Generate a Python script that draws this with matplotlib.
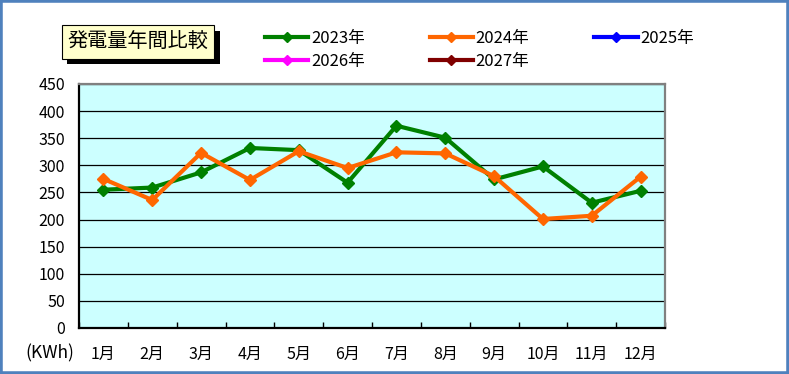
import numpy as np
import matplotlib.pyplot as plt
from matplotlib.patches import Rectangle
import matplotlib.patheffects as pe

plt.rcParams['font.family'] = ['Noto Sans CJK JP', 'DejaVu Sans']

# data
months = ['1月', '2月', '3月', '4月', '5月', '6月', '7月', '8月', '9月', '10月', '11月', '12月']
gen_2023 = [255, 259, 287, 332, 328, 268, 373, 351, 274, 298, 231, 253]
gen_2024 = [275, 236, 323, 273, 326, 295, 324, 322, 280, 201, 207, 279]
years = ['2023年', '2024年', '2025年', '2026年', '2027年']
colors = ['#008000', '#FF6600', '#0000FF', '#FF00FF', '#800000']
series = [gen_2023, gen_2024, [], [], []]

fig = plt.figure(figsize=(7.89, 3.74), dpi=100)
ax = fig.add_axes([79/789, 46/374, 586/789, 244/374])
ax.set_facecolor('#CCFFFF')

x = np.arange(len(months)) + 0.5
handles = []
for yr, col, vals in zip(years, colors, series):
    xs = x[:len(vals)]
    h, = ax.plot(xs, vals, color=col, lw=3, marker='D', ms=5.8, label=yr, zorder=3)
    handles.append(h)

ax.set_xlim(0, 12)
ax.set_ylim(0, 450)
ax.set_yticks(np.arange(0, 451, 50))
ax.yaxis.grid(True, color='black', lw=0.9)
ax.set_axisbelow(True)
ax.tick_params(axis='y', length=0, pad=10, labelsize=11.5)

# ticks between months, labels in the middle
ax.set_xticks(np.arange(0, 13))
ax.set_xticklabels([])
ax.tick_params(axis='x', which='major', direction='in', length=4, width=1, color='black')
ax.set_xticks(x, minor=True)
ax.set_xticklabels(months, minor=True)
ax.tick_params(axis='x', which='minor', length=0, pad=13, labelsize=11.5)

for s in ['left', 'bottom']:
    ax.spines[s].set_color('black')
    ax.spines[s].set_linewidth(1.6)
for s in ['top', 'right']:
    ax.spines[s].set_color('#808080')
    ax.spines[s].set_linewidth(1.6)

fig.text(50/789, 1 - 353/374, '(KWh)', ha='center', va='center', fontsize=12.5)

# title box with shadow
t = fig.text(138/789, 1 - 42/374, '発電量年間比較', ha='center', va='center', fontsize=14.5,
             bbox=dict(boxstyle='square,pad=0.3', fc='#FFFFCC', ec='black', lw=0.8))
t.get_bbox_patch().set_path_effects([pe.SimplePatchShadow(offset=(4, -4), shadow_rgbFace='black', alpha=1),
                                     pe.Normal()])

# legend: row 1 = 2023, 2024, 2025; row 2 = 2026, 2027
order = [0, 3, 1, 4, 2]
fig.legend([handles[i] for i in order], [years[i] for i in order], ncol=3,
           loc='upper left', bbox_to_anchor=(265/789, 1 - 30/374), frameon=False,
           fontsize=12, handlelength=2.6, handletextpad=0.15, columnspacing=3.9,
           labelspacing=0.35, borderpad=0, borderaxespad=0, markerscale=0.9)

fig.patches.append(Rectangle((0, 0), 1, 1, transform=fig.transFigure, fill=False,
                             ec='#4F81BD', lw=4, clip_on=False))

fig.savefig('out.png', dpi=100)
